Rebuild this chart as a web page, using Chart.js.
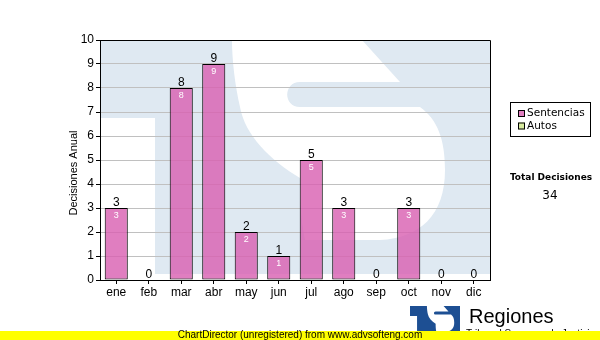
<!DOCTYPE html>
<html>
<head>
<meta charset="utf-8">
<script src="https://cdn.jsdelivr.net/npm/chart.js@4.4.1/dist/chart.umd.min.js"></script>
<style>
  html, body { margin: 0; padding: 0; background: #fff; }
  #wrap { width: 600px; height: 340px; position: relative; }
</style>
</head>
<body>
<div id="wrap"><canvas id="decisionesChart" width="600" height="340"></canvas></div>
<script>
const meses = ["ene", "feb", "mar", "abr", "may", "jun", "jul", "ago", "sep", "oct", "nov", "dic"];
const sentencias = [3, 0, 8, 9, 2, 1, 5, 3, 0, 3, 0, 0];
const yTicks = [0, 1, 2, 3, 4, 5, 6, 7, 8, 9, 10];
const series = ["Sentencias", "Autos"];
const coloresSerie = ["rgba(216, 94, 176, 0.8)", "#d9ec9f"];

const FONT = "'Liberation Sans', Arial, sans-serif";
const totalDecisiones = sentencias.reduce((acc, v) => acc + v, 0);

// logo "TS" de fondo, en coordenadas de una caja de 390 x 234
function trazarS(ctx) {
  ctx.beginPath();
  ctx.moveTo(132, 0);
  ctx.lineTo(262, 0);
  ctx.lineTo(300, 42);
  ctx.lineTo(200, 42);
  ctx.bezierCurveTo(183, 42, 183, 67, 200, 67);
  ctx.lineTo(320, 67);
  ctx.bezierCurveTo(338, 80, 345, 100, 345, 130);
  ctx.bezierCurveTo(345, 175, 320, 198, 280, 200);
  ctx.lineTo(205, 200);
  ctx.bezierCurveTo(200, 175, 200, 155, 200, 138);
  ctx.bezierCurveTo(170, 120, 145, 95, 140, 67);
  ctx.bezierCurveTo(135, 45, 132, 20, 132, 0);
  ctx.closePath();
  ctx.fill();
  ctx.fillRect(0, 78, 55, 200);
}

function dibujarLogo(ctx, x, y, w, h, azul) {
  ctx.save();
  ctx.beginPath();
  ctx.rect(x, y, w, h);
  ctx.clip();
  ctx.fillStyle = azul;
  ctx.fillRect(x, y, w, h);
  ctx.translate(x, y);
  ctx.scale(w / 390, h / 234);
  ctx.fillStyle = "#fff";
  trazarS(ctx);
  ctx.restore();
}

const fondoPlugin = {
  id: "fondo",
  beforeDraw(chart) {
    const { ctx, chartArea: a } = chart;
    ctx.save();
    ctx.fillStyle = "#fff";
    ctx.fillRect(0, 0, chart.width, chart.height);
    dibujarLogo(ctx, a.left, a.top, a.right - a.left, a.bottom - a.top - 6, "#dfe9f2");
    ctx.restore();
  },
};

const etiquetasPlugin = {
  id: "etiquetas",
  afterDatasetsDraw(chart) {
    const { ctx, chartArea: a } = chart;
    const meta = chart.getDatasetMeta(0);
    ctx.save();
    ctx.textAlign = "center";
    meta.data.forEach((bar, i) => {
      const v = sentencias[i];
      ctx.fillStyle = "#000";
      ctx.font = "12px " + FONT;
      ctx.textBaseline = "alphabetic";
      ctx.fillText(String(v), bar.x, bar.y - 2);
      if (v > 0) {
        ctx.fillStyle = "#fff";
        ctx.font = "9px " + FONT;
        ctx.textBaseline = "middle";
        ctx.fillText(String(v), bar.x, bar.y + 8);
      }
    });
    // marco del area
    ctx.strokeStyle = "#000";
    ctx.lineWidth = 1;
    ctx.beginPath();
    ctx.moveTo(a.left, a.top + 0.5);
    ctx.lineTo(a.right + 0.5, a.top + 0.5);
    ctx.lineTo(a.right + 0.5, a.bottom);
    ctx.stroke();
    ctx.restore();
  },
};

const extrasPlugin = {
  id: "extras",
  afterDraw(chart) {
    const { ctx } = chart;
    ctx.save();

    // titulo eje y
    ctx.save();
    ctx.translate(73.5, 173);
    ctx.rotate(-Math.PI / 2);
    ctx.fillStyle = "#000";
    ctx.font = "11px " + FONT;
    ctx.textAlign = "center";
    ctx.textBaseline = "middle";
    ctx.fillText("Decisiones Anual", 0, 0);
    ctx.restore();

    // leyenda
    ctx.strokeStyle = "#000";
    ctx.lineWidth = 1;
    ctx.strokeRect(510.5, 102.5, 80, 34);
    ctx.font = "10.5px 'DejaVu Sans', sans-serif";
    ctx.textBaseline = "middle";
    ctx.textAlign = "left";
    series.forEach((nombre, i) => {
      const y = 113.5 + i * 12.5;
      ctx.fillStyle = coloresSerie[i];
      ctx.fillRect(518, y - 3.5, 7, 7);
      ctx.strokeRect(518.5, y - 3, 6, 6);
      ctx.fillStyle = "#000";
      ctx.fillText(nombre, 527, y);
    });

    // total
    ctx.textAlign = "center";
    ctx.font = "bold 9px 'DejaVu Sans', sans-serif";
    ctx.fillText("Total Decisiones", 551, 178);
    ctx.font = "12px 'DejaVu Sans', sans-serif";
    ctx.fillText(String(totalDecisiones), 550, 195.5);

    // logo inferior
    dibujarLogo(ctx, 410, 306, 50, 30, "#1d4f93");
    ctx.fillStyle = "#000";
    ctx.textAlign = "left";
    ctx.textBaseline = "alphabetic";
    ctx.font = "20px " + FONT;
    ctx.fillText("Regiones", 469, 323);
    ctx.font = "10px " + FONT;
    ctx.fillText("Tribunal Supremo de Justicia", 466, 337);

    // banda amarilla
    ctx.fillStyle = "#ffff00";
    ctx.fillRect(0, 331, chart.width, 9);
    ctx.fillStyle = "#000";
    ctx.textAlign = "center";
    ctx.textBaseline = "middle";
    ctx.font = "10px " + FONT;
    ctx.fillText("ChartDirector (unregistered) from www.advsofteng.com", 300, 335.5);
    ctx.restore();
  },
};

const ctx = document.getElementById("decisionesChart");
new Chart(ctx, {
  type: "bar",
  data: {
    labels: meses,
    datasets: [
      {
        label: series[0],
        data: sentencias,
        backgroundColor: coloresSerie[0],
        borderColor: "#000",
        borderWidth: 1,
        borderSkipped: false,
        categoryPercentage: 1,
        barPercentage: 0.71,
      },
    ],
  },
  options: {
    responsive: false,
    animation: false,
    devicePixelRatio: 1,
    layout: { padding: { left: 0, top: 40, right: 110, bottom: 0 } },
    plugins: {
      legend: { display: false },
      tooltip: { enabled: false },
    },
    scales: {
      y: {
        min: 0,
        max: 10,
        afterFit: (s) => { s.width = 100; },
        afterBuildTicks: (s) => { s.ticks = yTicks.map((v) => ({ value: v })); },
        ticks: {
          color: "#000",
          font: { family: FONT, size: 12 },
          padding: 2,
        },
        grid: { color: "#c0c0c0", tickLength: 4, tickColor: "#000" },
        border: { color: "#000" },
      },
      x: {
        afterFit: (s) => { s.height = 60; },
        ticks: {
          color: "#000",
          font: { family: FONT, size: 12 },
          padding: 1,
        },
        grid: { drawOnChartArea: false, offset: false, tickLength: 4, tickColor: "#000" },
        border: { color: "#000" },
      },
    },
  },
  plugins: [fondoPlugin, etiquetasPlugin, extrasPlugin],
});
</script>
</body>
</html>
